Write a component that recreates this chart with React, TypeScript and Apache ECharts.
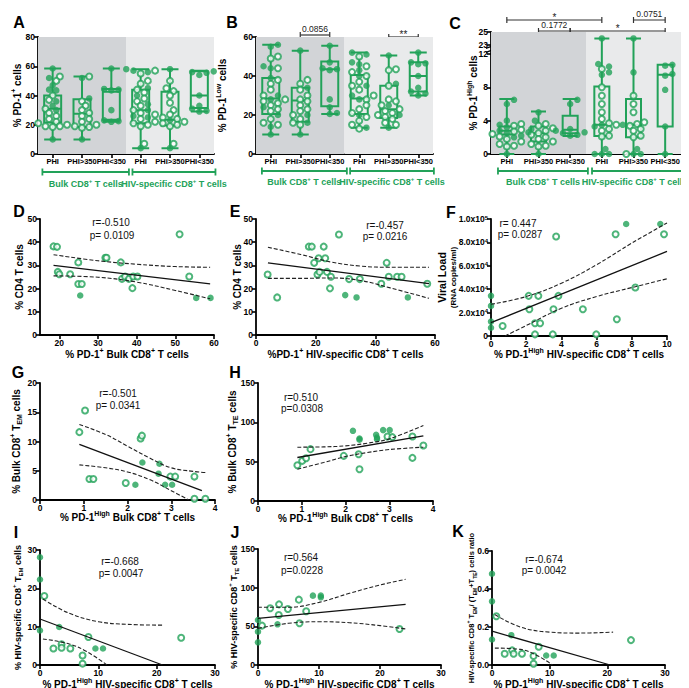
import React, { useEffect, useRef } from 'react';
import * as echarts from 'echarts';

const GREEN = '#22a259';
const DARK_BG = '#d2d4d7';
const LIGHT_BG = '#e9eaeb';
const FONT = "'Liberation Sans', Arial, sans-serif";

// ---------------- Panels A–C (box plots) ----------------
const boxCategories = ['PHI', 'PHI>350', 'PHI<350', 'PHI', 'PHI>350', 'PHI<350'];
const groupNames = ['Bulk CD8{sup|+} T cells', 'HIV-specific CD8{sup|+} T cells'];

// [min, q1, median, q3, max]
const aStats = [[10, 21.5, 31, 40, 58.5], [10, 18.5, 27.5, 37.5, 53], [22, 23.5, 42.5, 44.5, 58.5], [4, 21, 30, 44, 58], [4, 19.5, 23.5, 42.5, 58], [29, 31.5, 40, 56.5, 57]];
const aFilled = [
  [58.5, 52, 47, 44, 43.5, 36, 33, 30, 10],
  [52, 38, 10],
  [58.5, 44.5, 44, 43.5, 30, 23, 22.5, 22],
  [58, 57, 56, 45, 40, 34, 30, 26, 25, 4],
  [58, 23, 4],
  [56.5, 56, 55.5, 54, 40, 33, 31, 29.5, 29],
];
const aOpen = [
  [53, 50, 40, 37, 31, 28, 26, 24, 22, 21, 20, 19, 19, 18.5],
  [53, 36, 33, 30, 28, 26, 24, 22, 20, 19, 18.5, 18],
  [],
  [57, 55, 50, 48, 44, 42, 38, 36, 33, 30, 28, 27, 24, 22, 21, 20, 19, 7],
  [50, 45, 43, 40, 35, 30, 27, 25, 24, 22, 21, 20, 19, 7],
  [],
];
const aYTicks = [0, 20, 40, 60, 80];

const bStats = [[10, 20.5, 28.5, 39, 56], [10, 16.5, 27.5, 34, 53], [20.5, 24.5, 43.5, 47.5, 55.5], [13.5, 20.5, 28.5, 40.5, 52], [13.5, 18.5, 23, 35, 50.5], [30, 32, 40, 47, 52]];
const bFilled = [
  [56, 55, 45, 44, 39, 30, 28, 24, 20, 14, 10],
  [53, 34, 20, 16, 10],
  [55.5, 47, 44, 43.5, 43, 28, 24, 21, 20.5],
  [52, 51, 47, 46, 43, 40, 35, 30, 28, 20, 13.5],
  [50.5, 36, 25, 20, 13.5],
  [52, 47, 46.5, 46, 40, 34, 32, 31, 30],
];
const bOpen = [
  [50, 49, 44, 38, 36, 33, 30, 28, 27, 26, 25, 23, 22, 18, 16, 15],
  [38, 36, 33, 30, 28, 27, 25, 23, 22, 20, 18, 16, 15],
  [],
  [50, 45, 42, 40, 37, 35, 33, 30, 28, 25, 23, 21, 19, 17, 15, 13],
  [43.5, 43, 35, 28, 27, 25, 23, 22, 21, 20, 19, 18, 16, 15],
  [],
];
const bYTicks = [0, 20, 40, 60];

const cStats = [[0, 2.35, 2.8, 3.3, 6.6], [0, 1.5, 2.5, 3.3, 5.1], [2.15, 2.5, 2.9, 4.6, 6.6], [0, 2.15, 3.5, 8.1, 24], [0, 2, 3.5, 6.6, 24], [0, 3.3, 9.5, 10.7, 10.7]];
const cFilled = [
  [6.5, 6, 4, 3.5, 3.2, 3, 2.8, 2.6, 2.5, 2.2, 2, 0],
  [5, 4, 3, 0],
  [6.5, 6, 3, 2.8, 2.6, 2.5, 2.3, 2.2],
  [24, 10.8, 10.5, 9.8, 9.5, 3.5, 3.3, 0.6, 0, 0, 0],
  [24, 9.8, 3.5, 0.6, 0, 0],
  [10.7, 10.6, 9.6, 9.4, 7.7, 3.3, 0],
];
const cOpen = [
  [3.6, 3.4, 3.1, 2.9, 2.7, 2.4, 2.1, 1.8, 1.5, 1.2, 1.0, 0.9],
  [3.6, 3.4, 3.1, 2.8, 2.5, 2.3, 2.0, 1.8, 1.5, 1.2, 1.0, 0.9],
  [],
  [10.2, 8, 7, 6, 5, 4.2, 3.7, 3.5, 3.0, 2.8, 2.2, 2.1],
  [7, 6, 5, 3.8, 3.6, 3.4, 3.0, 2.8, 2.2, 2.0, 0],
  [],
];
const cYTicks = [0, 4, 8, 12, 23, 25];

const aSig = [{ from: 1, to: 2, label: '0.0709' }, { from: 4, to: 5, label: '*' }];
const bSig = [{ from: 1, to: 2, label: '0.0856' }, { from: 4, to: 5, label: '**' }];
const cSig = [
  { from: 0, to: 3, label: '*' },
  { from: 4, to: 5, label: '0.0751' },
  { from: 1, to: 2, label: '0.1772' },
  { from: 2, to: 5, label: '*' },
];

// ---------------- Panels D–K (correlations) ----------------
const dOpen = [[18.5, 38.2], [19.4, 38], [19.6, 27.2], [20, 26.2], [22.8, 26.2], [24.9, 31.3], [24.9, 22], [25.8, 22], [31.9, 33.3], [32.2, 33.3], [35.9, 31.3], [36.2, 24.2], [37, 25.2], [38, 24.2], [39.1, 25.2], [40.2, 25.2], [38.9, 20.2], [51.1, 43.4], [53.6, 25.2]];
const dFilled = [[25.4, 17], [55.4, 16], [59.1, 16]];
const dFit = [[18.5, 30.0], [59, 22.0]];
const dUpper = [[18.5, 34.6], [30, 32.0], [40, 30.5], [50, 29.5], [59, 29.2]];
const dLower = [[18.5, 25.5], [30, 24.9], [40, 22.8], [50, 19.2], [59, 15.6]];

const eOpen = [[3.9, 26.1], [7.1, 16.2], [17.7, 38.1], [18.7, 38.1], [19.5, 31.1], [21, 33.1], [20.6, 26.1], [21.3, 27.2], [22.7, 38.1], [23.2, 33.1], [23.8, 27.2], [25.1, 25.1], [24.8, 20.1], [27.8, 43.3], [31.2, 24.1], [34.8, 24.1], [42, 22.1], [43.8, 31.1], [44.5, 25.1], [47.3, 25.1], [48.8, 25.1], [57.4, 22.1]];
const eFilled = [[29.9, 17.2], [33.7, 16.2], [50.9, 16.2]];
const eFit = [[4, 31.1], [58, 22.1]];
const eUpper = [[4, 37.8], [15, 34.7], [25, 31.5], [35, 29.7], [45, 29.2], [58, 29.2]];
const eLower = [[4, 24.4], [15, 24.4], [25, 24.6], [35, 23.5], [45, 20.3], [58, 15.8]];

const fOpen = [[0.66, 8600], [2.14, 34300], [2.18, 22900], [2.5, 10900], [2.79, 10900], [2.5, 1400], [2.69, 34300], [3.55, 22900], [3.51, 1400], [3.7, 85100], [3.83, 34300], [5.22, 22900], [5.98, 1400], [7.08, 86900], [7.15, 14300], [8.2, 41400], [9.83, 86900]];
const fFilled = [[0, 34300], [0, 25700], [0, 12300], [0, 7100], [7.68, 95700], [9.62, 95700]];
const fFit = [[0, 11400], [10, 72300]];
const fUpper = [[0, 27100], [2, 33700], [4, 45100], [6, 60900], [8, 79400], [10, 96600]];
const fLower = [[0.8, 0], [2, 8900], [4, 23700], [6, 33700], [8, 41400], [10, 48900]];

const gOpen = [[0.9, 11.6], [1.03, 15.3], [1.13, 3.6], [1.22, 3.6], [1.96, 2.9], [2.3, 10.5], [2.33, 11.0], [2.98, 4.0], [3.09, 4.0], [3.53, 4.0], [3.53, 0.2], [3.78, 0.2]];
const gFilled = [[2.18, 2.6], [2.34, 6.4], [2.71, 4.5], [2.73, 6.2], [2.86, 2.6], [3.02, 2.6]];
const gFit = [[0.9, 9.5], [3.7, 1.6]];
const gUpper = [[0.9, 12.9], [1.5, 11.2], [2, 9.2], [2.5, 7.2], [3, 5.5], [3.5, 4.9], [3.78, 4.7]];
const gLower = [[0.9, 6.0], [1.5, 5.5], [2, 4.8], [2.5, 3.5], [3, 1.6], [3.4, 0]];

const hOpen = [[0.9, 45.5], [1.01, 51], [1.1, 54.4], [1.2, 65.9], [1.96, 57.4], [2.3, 59.5], [2.32, 40.4], [2.96, 82], [3.07, 81.2], [3.53, 82], [3.53, 54.8], [3.78, 70.6]];
const hFilled = [[2.17, 89.2], [2.32, 79.5], [2.32, 78], [2.7, 84.1], [2.72, 80.7], [2.72, 78.6], [2.86, 90.1], [3.01, 90.1]];
const hFit = [[0.9, 55.3], [3.78, 82.9]];
const hUpper = [[0.9, 68.4], [1.5, 68.8], [2, 70.1], [2.5, 73.5], [3, 79], [3.78, 96]];
const hLower = [[0.9, 40.4], [1.5, 48.9], [2, 56.5], [2.5, 61.6], [3, 65.4], [3.78, 68.4]];

const iOpen = [[0.74, 18], [3.7, 5.4], [3.7, 4.5], [2.3, 4.3], [5.2, 4.3], [7.3, 2.5], [7.3, 0.35], [8.3, 7.3], [24.2, 7.1]];
const iFilled = [[0, 28.1], [0, 22.3], [0, 9.0], [3.3, 9.9], [9.5, 4.3], [10.8, 4.3]];
const iFit = [[0, 12], [21, 0]];
const iUpper = [[0.5, 17.2], [5, 13.5], [10, 11.3], [15, 10.6], [21, 10.4]];
const iLower = [[0.5, 6.8], [5, 5.5], [8, 3.5], [11.5, 0]];

const jOpen = [[0.66, 50.9], [2.0, 73.3], [3.45, 78.4], [3.4, 64.7], [4.9, 72.4], [6.7, 84.5], [6.8, 53.9], [7.9, 69.4], [23.2, 46.6]];
const jFilled = [[0, 58.2], [0, 43.1], [0, 29.3], [3.2, 52.6], [9.0, 89.7], [10.3, 89.7], [10.3, 87.5]];
const jFit = [[0, 60.3], [24.2, 78.4]];
const jUpper = [[0, 74.6], [5, 74.6], [10, 81], [15, 92.7], [20, 103.4], [24.2, 110.8]];
const jLower = [[0, 47.4], [5, 53.9], [10, 56], [15, 54.7], [20, 50.9], [24.2, 46.6]];

const kOpen = [[0.75, 0.257], [3.5, 0.077], [3.75, 0.059], [2.2, 0.059], [5.2, 0.059], [7.2, 0.047], [7.2, 0.007], [8.1, 0.096], [24.1, 0.131]];
const kFilled = [[0, 0.48], [0, 0.335], [0, 0.134], [3.35, 0.157], [9.4, 0.05], [10.7, 0.05]];
const kFit = [[0, 0.178], [20.5, 0]];
const kUpper = [[0.5, 0.265], [5, 0.199], [10, 0.173], [15, 0.168], [21, 0.173]];
const kLower = [[0.5, 0.089], [5, 0.082], [8, 0.047], [10.5, 0]];

// ---------------- helpers ----------------
const C_K = 14.64 / 19;
const tC = (v: number) => (v <= 12 ? v : (v - 6) * C_K);
const invC = (u: number) => (u <= 12.001 ? u : u / C_K + 6);
const ident = (v: number) => v;

const richFor = (size: number, color: string, bold = true) => ({
  sup: { fontSize: size, fontWeight: bold ? 'bold' : 'normal', fontFamily: FONT, color, fill: color, verticalAlign: 'top', lineHeight: size + 1 },
  sub: { fontSize: size, fontWeight: bold ? 'bold' : 'normal', fontFamily: FONT, color, fill: color, verticalAlign: 'bottom', lineHeight: size + 1 },
});

const TICK_FONT = 8.5;
const SYM = 6.5;
const AX_LINE = { show: true, onZero: false, lineStyle: { color: '#000', width: 1.8 } };
const tickStyle = (vals?: number[]) => ({ show: true, length: 4, lineStyle: { color: '#000', width: 1.6 }, ...(vals ? { customValues: vals } : {}) });
const labelStyle = (vals?: number[], fmt?: any, rich?: any, size = TICK_FONT) => ({
  show: true, color: '#000', fontFamily: FONT, fontWeight: 'bold', fontSize: size, margin: 3,
  ...(vals ? { customValues: vals } : {}), ...(fmt ? { formatter: fmt } : {}), ...(rich ? { rich } : {}),
});
const nameStyle = (size = 10) => ({ color: '#000', fontFamily: FONT, fontWeight: 'bold', fontSize: size, lineHeight: size + 4, rich: richFor(Math.round(size * 0.65), '#000') });

function swarm(vals: number[], pxPerUnit: number, pxPerCat: number, d = 6): number[] {
  const order = vals.map((_, i) => i).sort((a, b) => vals[a] - vals[b]);
  const placed: { x: number; y: number }[] = [];
  const out = new Array(vals.length).fill(0);
  const step = d * 0.6;
  for (const i of order) {
    const y = vals[i] * pxPerUnit;
    for (let k = 0; k < 30; k++) {
      const off = k === 0 ? 0 : (k % 2 === 1 ? 1 : -1) * Math.ceil(k / 2) * step;
      if (placed.every((p) => (p.x - off) ** 2 + (p.y - y) ** 2 >= d * d * 0.85)) {
        placed.push({ x: off, y });
        out[i] = off / pxPerCat;
        break;
      }
    }
  }
  return out;
}

const boxPanels = [
  {
    grid: { left: 30, top: 29, width: 176, height: 117 }, yMax: 80, yTicks: aYTicks, tf: ident, inv: ident,
    stats: aStats, filled: aFilled, open: aOpen, yName: '% PD-1{sup|+} cells', yNameGap: 14, boxWidth: 17,
    sig: aSig, sigY: [50, 50], groupSpans: [[-0.35, 2.6], [2.72, 5.55]], bracketY: 164, groupTextY: 176,
  },
  {
    grid: { left: 248, top: 29, width: 177, height: 117 }, yMax: 60, yTicks: bYTicks, tf: ident, inv: ident,
    stats: bStats, filled: bFilled, open: bOpen, yName: '% PD-1{sup|Low} cells', yNameGap: 27, boxWidth: 17,
    sig: bSig, sigY: [27, 29], groupSpans: [[-0.3, 2.58], [2.69, 5.53]], bracketY: 163, groupTextY: 174,
  },
  {
    grid: { left: 483, top: 24, width: 190, height: 122 }, yMax: 25, yTicks: cYTicks, tf: tC, inv: invC,
    stats: cStats, filled: cFilled, open: cOpen, yName: '% PD-1{sup|High} cells', yNameGap: 11, boxWidth: 15,
    sig: cSig, sigY: [12, 12, 23, 23], groupSpans: [[-0.28, 2.56], [2.69, 5.56]], bracketY: 163, groupTextY: 174,
  },
];

const supFmt = (v: number) => (v === 0 ? '0' : v >= 100000 ? `${(v / 100000).toFixed(1)}x10{sup|5}` : `${(v / 10000).toFixed(1)}x10{sup|4}`);

const scatterPanels = [
  { grid: { left: 32, top: 211, width: 174, height: 116 }, x: [15, 60], xTicks: [20, 30, 40, 50, 60], y: [0, 50], yTicks: [0, 10, 20, 30, 40, 50],
    xName: '% PD-1{sup|+} Bulk CD8{sup|+} T cells', yName: '% CD4 T cells', yNameGap: 14, xNameGap: 12,
    open: dOpen, filled: dFilled, fit: dFit, upper: dUpper, lower: dLower },
  { grid: { left: 248, top: 211, width: 179, height: 116 }, x: [0, 60], xTicks: [0, 20, 40, 60], y: [0, 50], yTicks: [0, 10, 20, 30, 40, 50],
    xName: '%PD-1{sup|+} HIV-specific CD8{sup|+} T cells', yName: '% CD4 T cells', yNameGap: 12, xNameGap: 12,
    open: eOpen, filled: eFilled, fit: eFit, upper: eUpper, lower: eLower },
  { grid: { left: 483, top: 211, width: 176, height: 117 }, x: [0, 10], xTicks: [0, 2, 4, 6, 8, 10], y: [0, 100000], yTicks: [0, 20000, 40000, 60000, 80000, 100000],
    yFmt: supFmt, yRich: richFor(6, '#000'),
    xName: '% PD-1{sup|High} HIV-specific CD8{sup|+} T cells', yName: '{a|Viral Load}\n{b|(RNA copies/ml)}', yNameGap: 33, xNameGap: 11,
    open: fOpen, filled: fFilled, fit: fFit, upper: fUpper, lower: fLower },
  { grid: { left: 32, top: 375, width: 175, height: 117 }, x: [0, 4], xTicks: [0, 1, 2, 3, 4], y: [0, 20], yTicks: [0, 5, 10, 15, 20],
    xName: '% PD-1{sup|High} Bulk CD8{sup|+} T cells', yName: '% Bulk CD8{sup|+} T{sub|EM} cells', yNameGap: 17, xNameGap: 10,
    open: gOpen, filled: gFilled, fit: gFit, upper: gUpper, lower: gLower },
  { grid: { left: 250, top: 375, width: 175, height: 118 }, x: [0, 4], xTicks: [0, 1, 2, 3, 4], y: [0, 150], yTicks: [0, 50, 100, 150],
    xName: '% PD-1{sup|High} Bulk CD8{sup|+} T cells', yName: '% Bulk CD8{sup|+} T{sub|TE} cells', yNameGap: 19, xNameGap: 10,
    open: hOpen, filled: hFilled, fit: hFit, upper: hUpper, lower: hLower },
  { grid: { left: 32, top: 542, width: 175, height: 115 }, x: [0, 30], xTicks: [0, 10, 20, 30], y: [0, 30], yTicks: [0, 10, 20, 30],
    xName: '% PD-1{sup|High} HIV-specific CD8{sup|+} T cells', yName: '% HIV-specific CD8{sup|+} T{sub|EM} cells', yNameGap: 16, xNameGap: 12, yNameSize: 9,
    open: iOpen, filled: iFilled, fit: iFit, upper: iUpper, lower: iLower },
  { grid: { left: 250, top: 541, width: 183, height: 116 }, x: [0, 30], xTicks: [0, 10, 20, 30], y: [0, 150], yTicks: [0, 50, 100, 150],
    xName: '% PD-1{sup|High} HIV-specific CD8{sup|+} T cells', yName: '% HIV-specific CD8{sup|+} T{sub|TE} cells', yNameGap: 18, xNameGap: 12, yNameSize: 9,
    open: jOpen, filled: jFilled, fit: jFit, upper: jUpper, lower: jLower },
  { grid: { left: 484, top: 543, width: 173, height: 114 }, x: [0, 30], xTicks: [0, 10, 20, 30], y: [0, 0.6], yTicks: [0, 0.2, 0.4, 0.6],
    yFmt: (v: number) => v.toFixed(1),
    xName: '% PD-1{sup|High} HIV-specific CD8{sup|+} T cells', yName: 'HIV-specific CD8{sup|+} T{sub|EM}/ (T{sub|EM}+T{sub|TE}) cells ratio', yNameGap: 15, xNameGap: 12, yNameSize: 7.5,
    open: kOpen, filled: kFilled, fit: kFit, upper: kUpper, lower: kLower },
];

const panelLetters = [['A', 11, 14], ['B', 224, 14], ['C', 447, 15], ['D', 11, 203], ['E', 227, 203], ['F', 443, 204], ['G', 10, 364], ['H', 227, 364], ['I', 8, 524], ['J', 227, 524], ['K', 450, 523]];
const annotations = [
  ['r=-0.510', 103, 214], ['p= 0.0109', 104, 227],
  ['r=-0.457', 377, 217], ['p= 0.0216', 377, 228],
  ['r= 0.447', 510, 215], ['p= 0.0287', 512, 226],
  ['r=-0.501', 110, 385], ['p= 0.0341', 110, 397],
  ['r=0.510', 293, 389], ['p=0.0308', 294, 400],
  ['r=-0.668', 112, 553], ['p= 0.0047', 113, 565],
  ['r=0.564', 293, 549], ['p=0.0228', 294, 562],
  ['r=-0.674', 536, 551], ['p= 0.0042', 536, 562],
];

function buildOption() {
  const grid: any[] = [], xAxis: any[] = [], yAxis: any[] = [], series: any[] = [];
  const boxMeta: any[] = [];

  boxPanels.forEach((p) => {
    const g = grid.length;
    grid.push({ ...p.grid, containLabel: false, outerBoundsMode: 'none' });
    const xc = xAxis.length;
    xAxis.push({
      type: 'category', gridIndex: g, data: boxCategories.map((_, i) => 'c' + i),
      axisLine: AX_LINE, axisTick: { show: true, alignWithLabel: true, length: 4, lineStyle: { color: '#000', width: 1.6 } },
      axisLabel: { ...labelStyle(undefined, undefined, undefined, 7.5), interval: 0, hideOverlap: false, formatter: (_v: string, i: number) => boxCategories[i] },
      splitLine: { show: false },
    });
    const xv = xAxis.length;
    xAxis.push({ type: 'value', gridIndex: g, min: -0.5, max: 5.5, show: false, splitLine: { show: false } });
    const yi = yAxis.length;
    const tv = p.yTicks.map(p.tf);
    yAxis.push({
      type: 'value', gridIndex: g, min: 0, max: p.tf(p.yMax), axisLine: AX_LINE,
      axisTick: tickStyle(tv), axisLabel: labelStyle(tv, (v: number) => String(Math.round(p.inv(v)))),
      splitLine: { show: false },
      name: p.yName, nameLocation: 'middle', nameGap: p.yNameGap, nameMoveOverlap: false, nameTextStyle: nameStyle(10),
    });
    const top = p.tf(p.yMax);
    series.push({
      type: 'scatter', xAxisIndex: xv, yAxisIndex: yi, data: [], silent: true, z: 0,
      markArea: {
        silent: true,
        data: [
          [{ xAxis: -0.5, yAxis: 0, itemStyle: { color: DARK_BG } }, { xAxis: 2.5, yAxis: top }],
          [{ xAxis: 2.5, yAxis: 0, itemStyle: { color: LIGHT_BG } }, { xAxis: 5.5, yAxis: top }],
        ],
      },
    });
    series.push({
      type: 'boxplot', xAxisIndex: xc, yAxisIndex: yi, silent: true, z: 2,
      data: p.stats.map((s) => s.map(p.tf)), boxWidth: [p.boxWidth, p.boxWidth],
      itemStyle: { color: 'rgba(0,0,0,0)', borderColor: GREEN, borderWidth: 2 },
    });
    const pxPerUnit = p.grid.height / top;
    const pxPerCat = p.grid.width / 6;
    const filledData: number[][] = [], openData: number[][] = [];
    p.filled.forEach((fv, i) => {
      const ov = p.open[i];
      const all = [...fv, ...ov].map(p.tf);
      const off = swarm(all, pxPerUnit, pxPerCat);
      fv.forEach((v, k) => filledData.push([i + off[k], p.tf(v)]));
      ov.forEach((v, k) => openData.push([i + off[fv.length + k], p.tf(v)]));
    });
    series.push({ type: 'scatter', xAxisIndex: xv, yAxisIndex: yi, data: openData, symbol: 'emptyCircle', symbolSize: SYM - 0.5, silent: true, z: 3,
      itemStyle: { color: GREEN, borderColor: GREEN, borderWidth: 1.5 } });
    series.push({ type: 'scatter', xAxisIndex: xv, yAxisIndex: yi, data: filledData, symbol: 'circle', symbolSize: SYM, silent: true, z: 4,
      itemStyle: { color: GREEN } });
    boxMeta.push({ xv, yi });
  });

  scatterPanels.forEach((p: any) => {
    const g = grid.length;
    grid.push({ ...p.grid, containLabel: false, outerBoundsMode: 'none' });
    const xi = xAxis.length;
    xAxis.push({
      type: 'value', gridIndex: g, min: p.x[0], max: p.x[1], axisLine: AX_LINE,
      axisTick: tickStyle(p.xTicks), axisLabel: labelStyle(p.xTicks), splitLine: { show: false },
      name: p.xName, nameLocation: 'middle', nameGap: p.xNameGap, nameMoveOverlap: false, nameTextStyle: nameStyle(10),
    });
    const yi = yAxis.length;
    const ns: any = nameStyle(p.yNameSize || 10);
    if (p.yName.startsWith('{a|')) {
      ns.rich = {
        a: { fontSize: 10.5, fontWeight: 'bold', fontFamily: FONT, color: '#000', lineHeight: 12 },
        b: { fontSize: 8, fontWeight: 'bold', fontFamily: FONT, color: '#000', lineHeight: 10 },
      };
    }
    yAxis.push({
      type: 'value', gridIndex: g, min: p.y[0], max: p.y[1], axisLine: AX_LINE,
      axisTick: tickStyle(p.yTicks), axisLabel: labelStyle(p.yTicks, p.yFmt, p.yRich), splitLine: { show: false },
      name: p.yName, nameLocation: 'middle', nameGap: p.yNameGap, nameMoveOverlap: false, nameTextStyle: ns,
    });
    const lineBase = { type: 'line', xAxisIndex: xi, yAxisIndex: yi, showSymbol: false, symbol: 'none', silent: true, z: 5 };
    series.push({ ...lineBase, data: p.upper, smooth: 0.4, lineStyle: { color: '#222', width: 1.1, type: [4, 2] } });
    series.push({ ...lineBase, data: p.lower, smooth: 0.4, lineStyle: { color: '#222', width: 1.1, type: [4, 2] } });
    series.push({ ...lineBase, data: p.fit, lineStyle: { color: '#111', width: 1.3 } });
    series.push({ type: 'scatter', xAxisIndex: xi, yAxisIndex: yi, data: p.open, symbol: 'emptyCircle', symbolSize: SYM - 0.5, silent: true, z: 3,
      itemStyle: { color: GREEN, borderColor: GREEN, borderWidth: 1.5 } });
    series.push({ type: 'scatter', xAxisIndex: xi, yAxisIndex: yi, data: p.filled, symbol: 'circle', symbolSize: SYM, silent: true, z: 4,
      itemStyle: { color: GREEN } });
  });

  return {
    option: { animation: false, backgroundColor: '#fff', grid, xAxis, yAxis, series, tooltip: { show: false } },
    boxMeta,
  };
}

function buildGraphics(chart: any, boxMeta: any[]) {
  const els: any[] = [];
  panelLetters.forEach(([t, x, y]) => {
    els.push({ type: 'text', x, y, silent: true, style: { text: t, fontFamily: FONT, fontWeight: 'bold', fontSize: 16, fill: '#000', textAlign: 'center', textVerticalAlign: 'middle' } });
  });
  annotations.forEach(([t, x, y]) => {
    els.push({ type: 'text', x, y, silent: true, style: { text: t, fontFamily: FONT, fontSize: 10, fill: '#111', textAlign: 'center', textVerticalAlign: 'middle' } });
  });
  boxPanels.forEach((p, pi) => {
    const m = boxMeta[pi];
    const px = (v: number) => chart.convertToPixel({ xAxisIndex: m.xv, yAxisIndex: m.yi }, [v, 0])[0];
    p.groupSpans.forEach((span, gi) => {
      const x1 = px(span[0]), x2 = px(span[1]), y = p.bracketY;
      els.push({ type: 'line', silent: true, shape: { x1, y1: y, x2, y2: y }, style: { stroke: GREEN, lineWidth: 1.8 } });
      els.push({ type: 'line', silent: true, shape: { x1, y1: y - 3.5, x2: x1, y2: y + 3.5 }, style: { stroke: GREEN, lineWidth: 1.8 } });
      els.push({ type: 'line', silent: true, shape: { x1: x2, y1: y - 3.5, x2, y2: y + 3.5 }, style: { stroke: GREEN, lineWidth: 1.8 } });
      els.push({ type: 'text', silent: true, x: (x1 + x2) / 2 - (pi === 2 && gi === 1 ? 3 : 0), y: p.groupTextY, style: {
        text: groupNames[gi], fontFamily: FONT, fontWeight: 'bold', fontSize: 9, fill: GREEN, textAlign: 'center', textVerticalAlign: 'middle',
        lineHeight: 12, rich: richFor(6, GREEN) } });
    });
    p.sig.forEach((s, si) => {
      const x1 = px(s.from), x2 = px(s.to), y = p.sigY[si];
      els.push({ type: 'line', silent: true, shape: { x1, y1: y, x2, y2: y }, style: { stroke: '#333', lineWidth: 1.2 } });
      els.push({ type: 'line', silent: true, shape: { x1, y1: y - 3, x2: x1, y2: y + 3 }, style: { stroke: '#333', lineWidth: 1.2 } });
      els.push({ type: 'line', silent: true, shape: { x1: x2, y1: y - 3, x2, y2: y + 3 }, style: { stroke: '#333', lineWidth: 1.2 } });
      const star = s.label.startsWith('*');
      els.push({ type: 'text', silent: true, x: (x1 + x2) / 2, y: y - (star ? 3 : 6.5), style: {
        text: s.label, fontFamily: FONT, fontSize: star ? 10 : 8.5, fill: '#222', textAlign: 'center', textVerticalAlign: 'middle' } });
    });
  });
  const mC = boxMeta[2];
  const yHi = chart.convertToPixel({ xAxisIndex: mC.xv, yAxisIndex: mC.yi }, [-0.5, tC(23)]);
  const yLo = chart.convertToPixel({ xAxisIndex: mC.xv, yAxisIndex: mC.yi }, [-0.5, 12]);
  const ax = yHi[0];
  const ym = (yHi[1] + yLo[1]) / 2;
  els.push({ type: 'rect', silent: true, shape: { x: ax - 4, y: ym - 2.5, width: 6, height: 5 }, style: { fill: '#fff' } });
  els.push({ type: 'line', silent: true, shape: { x1: ax - 5, y1: ym - 1, x2: ax + 3, y2: ym - 4 }, style: { stroke: '#000', lineWidth: 1.2 } });
  els.push({ type: 'line', silent: true, shape: { x1: ax - 5, y1: ym + 3, x2: ax + 3, y2: ym }, style: { stroke: '#000', lineWidth: 1.2 } });
  return els;
}

export default function App() {
  const ref = useRef<HTMLDivElement>(null);
  useEffect(() => {
    if (!ref.current) return;
    const chart = echarts.init(ref.current, null, { renderer: 'svg' });
    const { option, boxMeta } = buildOption();
    chart.setOption(option as any);
    chart.setOption({ graphic: { elements: buildGraphics(chart, boxMeta) } } as any);
    return () => chart.dispose();
  }, []);
  return <div ref={ref} style={{ position: 'fixed', left: 0, top: 0, width: 689, height: 688, background: '#fff' }} />;
}
